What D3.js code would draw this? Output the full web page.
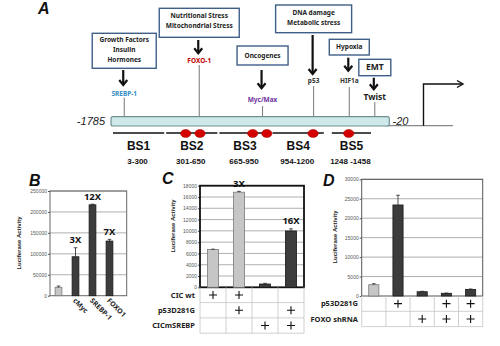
<!DOCTYPE html>
<html lang="en">
<head>
<meta charset="utf-8">
<script src="https://d3js.org/d3.v7.min.js"></script>
<style>
  body { margin: 0; background: #fff; }
  svg { display: block; font-family: 'Liberation Sans', Arial, sans-serif; }
  .box text { font-family: 'Noto Sans', sans-serif; font-weight: bold; }
  .tick text { fill: #555; font-size: 5px; }
</style>
</head>
<body>
<script>
// ---------- panel A : promoter map ----------
var bsNames = ["BS1", "BS2", "BS3", "BS4", "BS5"];
var bsRanges = ["3-300", "301-650", "665-950", "954-1200", "1248 -1458"];
var bsSites = [[], [0.385, 0.654], [0.645, 0.91], [0.78], [0.45]];   // red sites, relative place inside each region

var regStimuli = [["Growth Factors", "Insulin", "Hormones"], ["Nutritional Stress", "Mitochondrial Stress"],
                  ["Oncogenes"], ["DNA damage", "Metabolic stress"], ["Hypoxia"], ["EMT"]];
var regFactors = ["SREBP-1", "FOXO-1", "Myc/Max", "p53", "HIF1a", "Twist"];
var regSite = ["BS1", "BS2", "BS3", "BS4", "BS5", "BS5"];
var regOffset = [0.23, 0.64, 0.83, 0.79, 0.46, 0.94];

// ---------- panel B ----------
var bCats = ["", "cMyc", "SREBP-1", "FOXO1"];
var bVals = [20000, 93000, 217000, 130500];
var bErr = [3000, 21500, 1500, 4000];
var bFold = ["", "3X", "12X", "7X"];
var bGroup = ["control", "treated", "treated", "treated"];
var bTicks = [0, 50000, 100000, 150000, 200000, 250000];

// ---------- panel C ----------
var cVals = [6700, 16850, 580, 9980];
var cErr = [60, 150, 120, 380];
var cFold = ["", "3X", "", "16X"];
var cGroup = ["control", "control", "treated", "treated"];
var cTicks = [0, 2000, 4000, 6000, 8000, 10000, 12000, 14000, 16000, 18000];
var cRows = ["CIC wt", "p53D281G", "CICmSREBP"];
var cPlus = [[1, 1, 0, 0], [0, 1, 0, 1], [0, 0, 1, 1]];

// ---------- panel D ----------
var dVals = [2900, 23400, 1100, 700, 1700];
var dErr = [250, 2500, 100, 50, 100];
var dGroup = ["control", "treated", "treated", "treated", "treated"];
var dTicks = [0, 5000, 10000, 15000, 20000, 25000, 30000];
var dRows = ["p53D281G", "FOXO shRNA"];
var dPlus = [[0, 1, 0, 1, 1], [0, 0, 1, 1, 1]];

var width = 500, height = 346;
var svg = d3.select('body').append('svg').attr('width', width).attr('height', height);

var shade = { control: { fill: "#c6c6c6", stroke: "#7a7a7a" }, treated: { fill: "#3c3c3c", stroke: "#1a1a1a" } };

function panelLetter(t, x, y) {
    svg.append('text').attr('x', x).attr('y', y).text(t)
        .style('font-size', '16px').style('font-weight', 'bold').style('font-style', 'italic').attr('fill', '#111');
}

// ======= A =======
panelLetter("A", 38, 14);

var bs = d3.scaleBand().domain(bsNames).range([112, 378]);
var barTop = 116.7, barBot = 126;

// baseline and promoter arrow
svg.append('line').attr('x1', 385).attr('x2', 453).attr('y1', 125.7).attr('y2', 125.7)
    .attr('stroke', '#888').attr('stroke-width', 1.2);
svg.append('path').attr('d', 'M423.5,125.7 V84 H462').attr('fill', 'none').attr('stroke', '#111').attr('stroke-width', 1.4);
svg.append('path').attr('d', 'M457,80.5 L463,84 L457,87.5').attr('fill', 'none').attr('stroke', '#111').attr('stroke-width', 1.4);

// regulator boxes, arrows and factor lines
var regLayout = [
    { w: 64, top: 33.3, bot: 68.3, lines: [40, 49.5, 60], a0: 70, a1: 85, ly: 93.3, l0: 97.7 },
    { w: 80, top: 8.3, bot: 37.3, lines: [15.7, 25.7], a0: 40, a1: 53.3, ly: 60.7, l0: 65 },
    { w: 51, top: 46, bot: 65, lines: [55.5], a0: 70, a1: 88.3, ly: 100, l0: 106 },
    { w: 76, top: 5, bot: 32.7, lines: [12.5, 22.5], a0: 35, a1: 74, ly: 80.5, l0: 86 },
    { w: 40, top: 39.3, bot: 55, lines: [47], a0: 57.7, a1: 70.7, ly: 81, l0: 87 },
    { w: 32, top: 59.3, bot: 75.7, lines: [67.5], a0: 77.7, a1: 89.3, ly: 96.7, l0: 102 }
];
var factorColor = ["#2f8cc4", "#c00000", "#7030a0", "#333", "#333", "#222"];

regFactors.forEach(function(f, i) {
    var L = regLayout[i];
    var fx = bs(regSite[i]) + bs.bandwidth() * regOffset[i];
    var g = svg.append('g').attr('class', 'box');
    g.append('rect').attr('x', fx - L.w / 2).attr('y', L.top).attr('width', L.w).attr('height', L.bot - L.top)
        .attr('fill', '#fff').attr('stroke', '#3f5f86').attr('stroke-width', 1.4);
    regStimuli[i].forEach(function(s, k) {
        g.append('text').attr('x', fx).attr('y', L.lines[k]).attr('dy', '0.35em').attr('text-anchor', 'middle')
            .style('font-size', f === "Twist" ? '8.5px' : '6.5px').attr('fill', '#222').text(s);
    });
    var ax = fx - 1;
    svg.append('line').attr('x1', ax).attr('x2', ax).attr('y1', L.a0).attr('y2', L.a1 - 1)
        .attr('stroke', '#111').attr('stroke-width', 2.2);
    svg.append('path').attr('d', 'M' + (ax - 4) + ',' + (L.a1 - 5) + ' L' + ax + ',' + L.a1 + ' L' + (ax + 4) + ',' + (L.a1 - 5))
        .attr('fill', 'none').attr('stroke', '#111').attr('stroke-width', 2.2);
    svg.append('text').attr('x', fx).attr('y', L.ly).attr('dy', '0.35em').attr('text-anchor', 'middle')
        .style('font-family', "'Noto Sans', sans-serif").style('font-weight', 'bold')
        .style('font-size', f === "Twist" ? '8.5px' : '6.5px').attr('fill', factorColor[i]).text(f);
    svg.append('line').attr('x1', fx).attr('x2', fx).attr('y1', L.l0).attr('y2', barTop)
        .attr('stroke', '#777').attr('stroke-width', 1);
});

// promoter bar
svg.append('rect').attr('x', 111).attr('y', barTop).attr('width', 389.3 - 111).attr('height', barBot - barTop)
    .attr('rx', 2).attr('fill', '#cfe8ea').attr('stroke', '#6f8f92').attr('stroke-width', 1.2);
svg.append('text').attr('x', 105).attr('y', 124.5).attr('text-anchor', 'end')
    .style('font-size', '11px').style('font-style', 'italic').attr('fill', '#222').text('-1785');
svg.append('text').attr('x', 392.5).attr('y', 124.5)
    .style('font-size', '11px').style('font-style', 'italic').attr('fill', '#222').text('-20');

// binding site regions
bsNames.forEach(function(n, i) {
    var x0 = bs(n), w = bs.bandwidth();
    var inset = i === 4 ? 7 : 1;
    svg.append('line').attr('x1', x0 + inset).attr('x2', x0 + w - inset).attr('y1', 133).attr('y2', 133)
        .attr('stroke', '#111').attr('stroke-width', 1.4);
    bsSites[i].forEach(function(p) {
        svg.append('ellipse').attr('cx', x0 + w * p).attr('cy', 133.5).attr('rx', 5.2).attr('ry', 4)
            .attr('fill', '#d40000').attr('stroke', '#9a0000').attr('stroke-width', 0.5);
    });
    svg.append('text').attr('x', x0 + w / 2).attr('y', 149.5).attr('text-anchor', 'middle')
        .style('font-size', '12px').style('font-weight', 'bold').attr('fill', '#111').text(n);
    svg.append('text').attr('x', x0 + w / 2 - 1).attr('y', 164).attr('text-anchor', 'middle')
        .style('font-size', '8px').style('font-weight', 'bold').attr('fill', '#111').text(bsRanges[i]);
});

// ======= bar chart helper =======
function barChart(o) {
    var g = svg.append('g');
    var x = d3.scaleBand().domain(d3.range(o.vals.length)).range(o.xr).paddingInner(o.pad).paddingOuter(o.pad / 2);
    var y = d3.scaleLinear().domain([0, o.ticks[o.ticks.length - 1]]).range(o.yr);

    // gridlines
    g.selectAll('.grid').data(o.ticks.slice(1)).join('line')
        .attr('x1', o.xr[0]).attr('x2', o.frameRight).attr('y1', function(d) { return y(d); }).attr('y2', function(d) { return y(d); })
        .attr('stroke', '#9a9a9a').attr('stroke-width', 0.8);

    // y axis
    var ax = g.append('g').attr('transform', 'translate(' + o.xr[0] + ',0)')
        .call(d3.axisLeft(y).tickValues(o.ticks).tickSize(2).tickFormat(d3.format('d')));
    ax.select('.domain').remove();
    ax.selectAll('.tick line').attr('stroke', '#555');
    ax.selectAll('.tick text').attr('x', -3);

    // frame
    g.append('rect').attr('x', o.xr[0]).attr('y', o.yr[1]).attr('width', o.frameRight - o.xr[0]).attr('height', o.yr[0] - o.yr[1])
        .attr('fill', 'none').attr('stroke', o.frameColor).attr('stroke-width', o.frameWidth);

    // bars
    g.selectAll('.bar').data(o.vals).join('rect')
        .attr('x', function(d, i) { return x(i); }).attr('width', x.bandwidth())
        .attr('y', function(d) { return y(d); }).attr('height', function(d) { return y(0) - y(d); })
        .attr('fill', function(d, i) { return shade[o.group[i]].fill; })
        .attr('stroke', function(d, i) { return shade[o.group[i]].stroke; }).attr('stroke-width', 0.8);

    // error bars
    o.vals.forEach(function(v, i) {
        var cx = x(i) + x.bandwidth() / 2;
        g.append('line').attr('x1', cx).attr('x2', cx).attr('y1', y(v)).attr('y2', y(v + o.err[i])).attr('stroke', '#222').attr('stroke-width', 0.8);
        g.append('line').attr('x1', cx - 1.8).attr('x2', cx + 1.8).attr('y1', y(v + o.err[i])).attr('y2', y(v + o.err[i])).attr('stroke', '#222').attr('stroke-width', 0.8);
        if (o.fold && o.fold[i]) {
            g.append('text').attr('x', cx).attr('y', y(v + o.err[i]) - 4.5).attr('text-anchor', 'middle')
                .style('font-family', "'Noto Sans', sans-serif").style('font-weight', 'bold').style('font-size', '9.5px')
                .attr('fill', '#111').text(o.fold[i]);
        }
    });

    // y axis title
    g.append('text').attr('transform', 'translate(' + o.titleX + ',' + o.titleY + ') rotate(-90)')
        .attr('text-anchor', 'middle').style('font-size', '6px').style('font-weight', 'bold').attr('fill', '#222')
        .text('Luciferase Activity');

    // table of treatments
    if (o.rows) {
        var step = x.step(), tb = o.yr[0], rh = o.rowH;
        var x0 = o.xr[0], x1 = o.xr[1];
        d3.range(o.vals.length + 1).forEach(function(k) {
            var vx = x0 + k * step;
            g.append('line').attr('x1', vx).attr('x2', vx).attr('y1', tb).attr('y2', tb + rh * o.rows.length)
                .attr('stroke', '#c4c4c4').attr('stroke-width', 0.8);
        });
        o.rows.forEach(function(r, j) {
            g.append('line').attr('x1', x0).attr('x2', x1).attr('y1', tb + rh * (j + 1)).attr('y2', tb + rh * (j + 1))
                .attr('stroke', '#c4c4c4').attr('stroke-width', 0.8);
            g.append('text').attr('x', o.rowLabelX).attr('y', tb + rh * (j + 0.5)).attr('dy', '0.35em').attr('text-anchor', 'end')
                .style('font-family', "'Noto Sans', sans-serif").style('font-weight', 'bold').style('font-size', '7.5px')
                .attr('fill', '#222').text(r);
            o.plus[j].forEach(function(p, i) {
                if (!p) return;
                var px = x(i) + x.bandwidth() / 2, py = tb + rh * (j + 0.5);
                g.append('path').attr('d', 'M' + (px - 4) + ',' + py + ' H' + (px + 4) + ' M' + px + ',' + (py - 4) + ' V' + (py + 4))
                    .attr('stroke', '#111').attr('stroke-width', 1.1).attr('fill', 'none');
            });
        });
    }
    return x;
}

// ======= B =======
panelLetter("B", 29, 186);
var xb = barChart({ vals: bVals, err: bErr, fold: bFold, group: bGroup, ticks: bTicks,
    xr: [50, 118], frameRight: 126.7, yr: [295.7, 191], pad: 0.6,
    frameColor: '#666', frameWidth: 1, titleX: 21, titleY: 243 });
bCats.forEach(function(c, i) {
    if (!c) return;
    svg.append('text').attr('transform', 'translate(' + (xb(i) + xb.bandwidth() / 2 - 3) + ',301) rotate(45)')
        .style('font-family', "'Noto Sans', sans-serif").style('font-weight', 'bold').style('font-size', '7px')
        .attr('fill', '#222').text(c);
});

// ======= C =======
panelLetter("C", 162, 184);
barChart({ vals: cVals, err: cErr, fold: cFold, group: cGroup, ticks: cTicks,
    xr: [200, 304], frameRight: 304, yr: [287.3, 185.7], pad: 0.57,
    frameColor: '#111', frameWidth: 1.8, titleX: 175, titleY: 226,
    rows: cRows, plus: cPlus, rowH: 15.3, rowLabelX: 195 });

// ======= D =======
panelLetter("D", 323, 186);
barChart({ vals: dVals, err: dErr, group: dGroup, ticks: dTicks,
    xr: [361.7, 482.7], frameRight: 482.7, yr: [296, 179.3], pad: 0.58,
    frameColor: '#555', frameWidth: 1, titleX: 337, titleY: 237,
    rows: dRows, plus: dPlus, rowH: 15.3, rowLabelX: 358 });
</script>
</body>
</html>
